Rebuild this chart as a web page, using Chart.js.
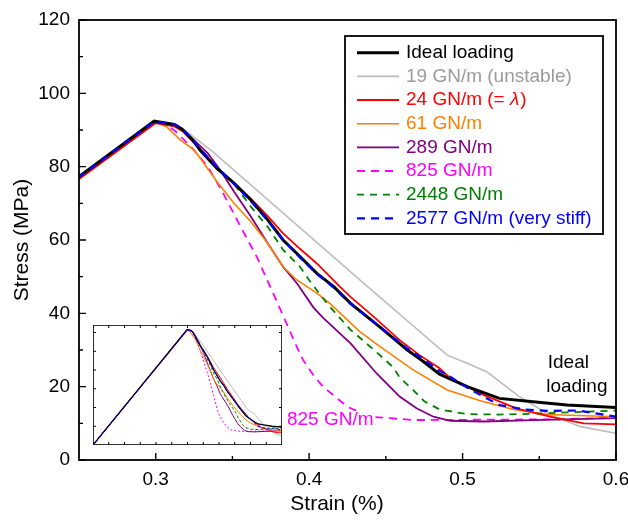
<!DOCTYPE html>
<html>
<head>
<meta charset="utf-8">
<script src="https://cdn.jsdelivr.net/npm/chart.js@4.4.1/dist/chart.umd.min.js"></script>
<style>
    html, body { margin: 0; padding: 0; background: #fff; }
    #wrap { position: relative; width: 628px; height: 520px; }
    #main { position: absolute; left: 0; top: 0; }
    #insetBox { position: absolute; left: 93px; top: 325px; width: 189px; height: 120px; background: #fff; }
</style>
</head>
<body>
<div id="wrap">
    <canvas id="main" width="628" height="520"></canvas>
    <div id="insetBox"><canvas id="inset" width="189" height="120"></canvas></div>
</div>
<script>
// strain (%) and stress (MPa)
const idealStrain = [0, 0.299, 0.312, 0.317, 0.324, 0.329, 0.340, 0.351, 0.362, 0.373, 0.383, 0.394, 0.405, 0.416, 0.427, 0.446, 0.464, 0.474, 0.485, 0.503, 0.524, 0.546, 0.568, 0.600];
const idealStress = [0, 92.4, 91.5, 90.3, 87.3, 84.5, 79.5, 75.5, 70.9, 65.5, 60.0, 55.5, 50.9, 47.3, 42.7, 36.3, 30.0, 27.0, 23.4, 20.0, 16.8, 15.9, 15.0, 14.3];

const k19Strain = [0, 0.299, 0.312, 0.318, 0.327, 0.336, 0.433, 0.490, 0.503, 0.516, 0.537, 0.555, 0.577, 0.600];
const k19Stress = [0, 92.4, 91.5, 90.2, 87.4, 84.5, 49.1, 28.6, 26.4, 24.0, 17.3, 12.7, 9.1, 7.3];

const k24Strain = [0, 0.300, 0.312, 0.318, 0.330, 0.340, 0.351, 0.362, 0.373, 0.383, 0.394, 0.405, 0.420, 0.427, 0.442, 0.459, 0.472, 0.485, 0.492, 0.514, 0.535, 0.557, 0.579, 0.600];
const k24Stress = [0, 91.9, 91.0, 89.5, 84.3, 79.6, 75.6, 71.3, 66.5, 61.8, 57.6, 53.6, 47.3, 44.5, 39.1, 32.7, 28.6, 25.0, 22.3, 17.7, 14.1, 11.8, 10.0, 9.7];

const k61Strain = [0, 0.299, 0.307, 0.316, 0.325, 0.329, 0.340, 0.351, 0.362, 0.373, 0.383, 0.392, 0.405, 0.414, 0.433, 0.446, 0.468, 0.490, 0.511, 0.533, 0.555, 0.600];
const k61Stress = [0, 92.3, 90.9, 87.3, 84.5, 82.3, 75.9, 70.0, 65.0, 59.1, 52.7, 49.1, 45.5, 42.5, 35.0, 31.0, 24.5, 19.1, 16.2, 13.8, 12.4, 11.8];

const k289Strain = [0, 0.299, 0.312, 0.318, 0.327, 0.334, 0.342, 0.351, 0.362, 0.373, 0.383, 0.392, 0.403, 0.409, 0.427, 0.444, 0.459, 0.470, 0.481, 0.492, 0.514, 0.546, 0.600];
const k289Stress = [0, 92.3, 91.5, 90.0, 86.4, 83.6, 79.1, 73.2, 66.4, 59.1, 52.7, 48.2, 41.5, 38.8, 31.8, 23.6, 17.3, 14.1, 11.8, 10.7, 10.5, 10.9, 11.4];

const k825Strain = [0, 0.299, 0.305, 0.312, 0.323, 0.334, 0.344, 0.355, 0.366, 0.379, 0.390, 0.396, 0.403, 0.409, 0.425, 0.440, 0.468, 0.520, 0.560, 0.600];
const k825Stress = [0, 92.3, 91.5, 90.0, 85.4, 80.0, 72.7, 63.9, 55.3, 43.2, 32.7, 27.3, 23.0, 20.0, 14.5, 11.8, 10.9, 11.0, 11.1, 11.5];

const k2448Strain = [0, 0.299, 0.312, 0.317, 0.324, 0.329, 0.340, 0.351, 0.362, 0.373, 0.383, 0.394, 0.401, 0.412, 0.427, 0.434, 0.445, 0.455, 0.459, 0.468, 0.475, 0.485, 0.503, 0.524, 0.546, 0.568, 0.600];
const k2448Stress = [0, 92.3, 91.5, 90.2, 87.2, 84.4, 79.3, 75.3, 69.1, 63.6, 57.3, 52.7, 48.5, 42.5, 35.5, 33.0, 29.0, 25.2, 22.5, 19.0, 16.0, 13.8, 12.5, 12.4, 12.6, 13.0, 13.5];

const k2577Strain = [0, 0.299, 0.312, 0.317, 0.324, 0.329, 0.340, 0.351, 0.362, 0.373, 0.383, 0.394, 0.405, 0.416, 0.427, 0.446, 0.464, 0.4745, 0.485, 0.492, 0.505, 0.524, 0.540, 0.555, 0.575, 0.590, 0.600];
const k2577Stress = [0, 92.3, 91.6, 90.4, 87.5, 84.8, 79.8, 75.3, 70.6, 65.3, 60.1, 55.2, 50.8, 47.0, 42.6, 36.3, 30.4, 27.5, 24.3, 22.7, 19.2, 15.0, 13.8, 13.4, 13.5, 12.5, 11.8];

const seriesLabels = ['Ideal loading', '19 GN/m (unstable)', '24 GN/m (= λ)', '61 GN/m', '289 GN/m', '825 GN/m', '2448 GN/m', '2577 GN/m (very stiff)'];
const xTicks = [0.3, 0.4, 0.5, 0.6];
const yTicks = [0, 20, 40, 60, 80, 100, 120];

Chart.defaults.font.family = '"Liberation Sans", Arial, sans-serif';
Chart.defaults.color = '#000';

function pts(xs, ys) {
    return xs.map((x, i) => ({ x: x, y: ys[i] }));
}

const seriesStyle = [
    { xs: idealStrain, ys: idealStress, color: '#000000', text: '#000000', width: 3, dash: [], order: 1 },
    { xs: k19Strain, ys: k19Stress, color: '#bdbdbd', text: '#9a9a9a', width: 1.6, dash: [], order: 8 },
    { xs: k24Strain, ys: k24Stress, color: '#ff0000', text: '#ff0000', width: 1.8, dash: [], order: 2 },
    { xs: k61Strain, ys: k61Stress, color: '#ff8000', text: '#ff8000', width: 1.6, dash: [], order: 5 },
    { xs: k289Strain, ys: k289Stress, color: '#800080', text: '#800080', width: 1.8, dash: [], order: 6 },
    { xs: k825Strain, ys: k825Stress, color: '#ff00ff', text: '#ff00ff', width: 1.8, dash: [8, 6], order: 7 },
    { xs: k2448Strain, ys: k2448Stress, color: '#008000', text: '#008000', width: 1.8, dash: [7, 6], order: 3 },
    { xs: k2577Strain, ys: k2577Stress, color: '#0000ff', text: '#0000ff', width: 2.2, dash: [8, 6], order: 0 },
];

function makeDatasets(thin) {
    return seriesStyle.map((s, i) => ({
        label: seriesLabels[i],
        data: pts(s.xs, s.ys),
        showLine: true,
        borderColor: s.color,
        backgroundColor: s.color,
        labelColor: s.text,
        borderWidth: thin ? (i === 0 ? 1.3 : 1) : s.width,
        borderDash: thin ? (s.dash.length ? (i === 5 ? [2, 2] : [3, 2]) : []) : s.dash,
        pointRadius: 0,
        tension: 0,
        order: s.order,
    }));
}

// frame box and inward pointing ticks
const frameTicks = {
    id: 'frameTicks',
    afterDraw(chart, args, o) {
        const { ctx, chartArea: a, scales: { x, y } } = chart;
        ctx.save();
        ctx.strokeStyle = '#000';
        ctx.lineWidth = o.frame;
        ctx.strokeRect(a.left, a.top, a.right - a.left, a.bottom - a.top);
        ctx.lineWidth = o.tickWidth;
        ctx.beginPath();
        o.xMarks.forEach((v) => {
            const px = x.getPixelForValue(v[0]);
            const len = v[1] ? o.major : o.minor;
            ctx.moveTo(px, a.bottom);
            ctx.lineTo(px, a.bottom - len);
            if (o.allSides) {
                ctx.moveTo(px, a.top);
                ctx.lineTo(px, a.top + len);
            }
        });
        o.yMarks.forEach((v) => {
            const py = y.getPixelForValue(v[0]);
            const len = v[1] ? o.major : o.minor;
            ctx.moveTo(a.left, py);
            ctx.lineTo(a.left + len, py);
            if (o.allSides) {
                ctx.moveTo(a.right, py);
                ctx.lineTo(a.right - len, py);
            }
        });
        ctx.stroke();
        ctx.restore();
    }
};

const legendBox = {
    id: 'legendBox',
    afterDraw(chart, args, o) {
        if (!o.show) return;
        const ctx = chart.ctx;
        ctx.save();
        ctx.fillStyle = '#fff';
        ctx.fillRect(o.left, o.top, o.width, o.height);
        ctx.strokeStyle = '#000';
        ctx.lineWidth = 1.8;
        ctx.strokeRect(o.left, o.top, o.width, o.height);
        ctx.textBaseline = 'middle';
        chart.data.datasets.forEach((ds, i) => {
            const yy = o.top + o.firstRow + i * o.rowGap;
            ctx.beginPath();
            ctx.setLineDash(ds.borderDash);
            ctx.lineWidth = ds.borderWidth;
            ctx.strokeStyle = ds.borderColor;
            ctx.moveTo(o.left + o.lineFrom, yy);
            ctx.lineTo(o.left + o.lineTo, yy);
            ctx.stroke();
            ctx.setLineDash([]);
            ctx.fillStyle = ds.labelColor;
            const parts = ds.label.split('λ');
            let tx = o.left + o.textAt;
            parts.forEach((p, j) => {
                ctx.font = o.font;
                ctx.fillText(p, tx, yy);
                tx += ctx.measureText(p).width;
                if (j < parts.length - 1) {
                    ctx.font = 'italic ' + o.font;
                    ctx.fillText('λ', tx, yy);
                    tx += ctx.measureText('λ').width + 1;
                }
            });
        });
        ctx.restore();
    }
};

const notes = {
    id: 'notes',
    afterDraw(chart, args, o) {
        if (!o.show) return;
        const { ctx, scales: { x, y } } = chart;
        ctx.save();
        ctx.font = '19px "Liberation Sans", Arial, sans-serif';
        ctx.textBaseline = 'middle';
        ctx.fillStyle = '#000';
        ctx.fillText('Ideal', x.getPixelForValue(0.5555), y.getPixelForValue(26.5));
        ctx.fillText('loading', x.getPixelForValue(0.5545), y.getPixelForValue(20));
        const lx = x.getPixelForValue(0.3855);
        const ly = y.getPixelForValue(10.9);
        const w = ctx.measureText('825 GN/m').width;
        ctx.fillStyle = '#fff';
        ctx.fillRect(lx - 2, ly - 9, w + 4, 18);
        ctx.fillStyle = '#ff00ff';
        ctx.fillText('825 GN/m', lx, ly);
        ctx.fillStyle = '#000';
        ctx.font = '21px "Liberation Sans", Arial, sans-serif';
        ctx.textAlign = 'center';
        ctx.fillText('Strain (%)', 337, 504);
        ctx.restore();
    }
};

const mainMarksX = [[0.3, 1], [0.35, 0], [0.4, 1], [0.45, 0], [0.5, 1], [0.55, 0], [0.6, 1]];
const mainMarksY = [[0, 1], [10, 0], [20, 1], [30, 0], [40, 1], [50, 0], [60, 1], [70, 0], [80, 1], [90, 0], [100, 1], [110, 0], [120, 1]];

new Chart(document.getElementById('main'), {
    type: 'scatter',
    data: { datasets: makeDatasets(false) },
    options: {
        responsive: false,
        animation: false,
        layout: { padding: { top: 20, right: 12, left: 0, bottom: 0 } },
        plugins: {
            legend: { display: false },
            tooltip: { enabled: false },
            frameTicks: { frame: 1.8, tickWidth: 1.4, major: 7, minor: 4, allSides: false, xMarks: mainMarksX, yMarks: mainMarksY },
            legendBox: { show: true, left: 345, top: 36, width: 258, height: 198, firstRow: 16.7, rowGap: 23.66, lineFrom: 12, lineTo: 54, textAt: 61, font: '19px "Liberation Sans", Arial, sans-serif' },
            notes: { show: true },
        },
        scales: {
            x: {
                type: 'linear',
                min: 0.25,
                max: 0.6,
                afterBuildTicks: (axis) => { axis.ticks = xTicks.map((v) => ({ value: v })); },
                afterFit: (axis) => { axis.height = 60; axis.paddingRight = 0; axis.paddingLeft = 0; },
                ticks: { font: { size: 19 }, padding: 8, callback: (v) => v.toFixed(1) },
                grid: { display: false, drawTicks: false },
                border: { display: false },
            },
            y: {
                min: 0,
                max: 120,
                afterBuildTicks: (axis) => { axis.ticks = yTicks.map((v) => ({ value: v })); },
                afterFit: (axis) => { axis.width = 79; axis.paddingTop = 0; axis.paddingBottom = 0; },
                ticks: { font: { size: 19 }, padding: 9 },
                grid: { display: false, drawTicks: false },
                border: { display: false },
                title: { display: true, text: 'Stress (MPa)', font: { size: 21 }, padding: { top: 10, bottom: 0 } },
            },
        },
    },
    plugins: [frameTicks, legendBox, notes],
});

const insetMarksX = [];
for (let i = 0; i <= 12; i++) insetMarksX.push([i * 0.05, 0]);
const insetMarksY = [[15, 0], [30, 0], [45, 0], [60, 0], [75, 0], [90, 0]];

new Chart(document.getElementById('inset'), {
    type: 'scatter',
    data: { datasets: makeDatasets(true) },
    options: {
        responsive: false,
        animation: false,
        layout: { padding: 0 },
        plugins: {
            legend: { display: false },
            tooltip: { enabled: false },
            frameTicks: { frame: 1.6, tickWidth: 1, major: 3, minor: 3, allSides: true, xMarks: insetMarksX, yMarks: insetMarksY },
            legendBox: { show: false },
            notes: { show: false },
        },
        scales: {
            x: { type: 'linear', min: 0, max: 0.6, display: false },
            y: { min: 0, max: 96, display: false },
        },
    },
    plugins: [frameTicks, legendBox, notes],
});
</script>
</body>
</html>
